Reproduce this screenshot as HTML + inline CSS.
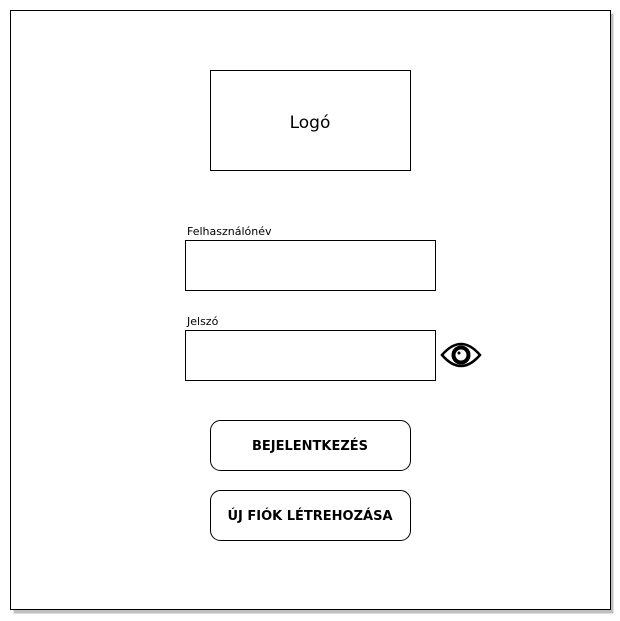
<!DOCTYPE html>
<html><head><meta charset="utf-8"><style>
html,body{margin:0;padding:0;background:#fff;width:620px;height:621px;overflow:hidden}
</style></head><body>
<svg width="620" height="621" xmlns="http://www.w3.org/2000/svg" font-family="DejaVu Sans, Liberation Sans, sans-serif">
<rect x="13.5" y="13.5" width="600" height="600" fill="#c0c0c0"/>
<rect x="10.5" y="10.5" width="600" height="599" fill="#fff" stroke="#000"/>
<rect x="210.5" y="70.5" width="200" height="100" fill="#fff" stroke="#000"/>
<text x="310" y="128" text-anchor="middle" font-size="17">Logó</text>
<text x="187" y="235" font-size="11">Felhasználónév</text>
<rect x="185.5" y="240.5" width="250" height="50" fill="#fff" stroke="#000"/>
<text x="187" y="325" font-size="11">Jelszó</text>
<rect x="185.5" y="330.5" width="250" height="50" fill="#fff" stroke="#000"/>
<path d="M442 355 Q461 333 480 355 Q461 377 442 355 Z" fill="none" stroke="#000" stroke-width="2.5"/>
<circle cx="461" cy="355" r="7.5" fill="none" stroke="#000" stroke-width="4"/>
<circle cx="459" cy="353" r="1.5" fill="#000"/>
<rect x="210.5" y="420.5" width="200" height="50" rx="10" fill="#fff" stroke="#000"/>
<text x="310" y="450" text-anchor="middle" font-size="13" font-weight="bold">BEJELENTKEZÉS</text>
<rect x="210.5" y="490.5" width="200" height="50" rx="10" fill="#fff" stroke="#000"/>
<text x="310" y="520" text-anchor="middle" font-size="13" font-weight="bold">ÚJ FIÓK LÉTREHOZÁSA</text>
</svg>
</body></html>
